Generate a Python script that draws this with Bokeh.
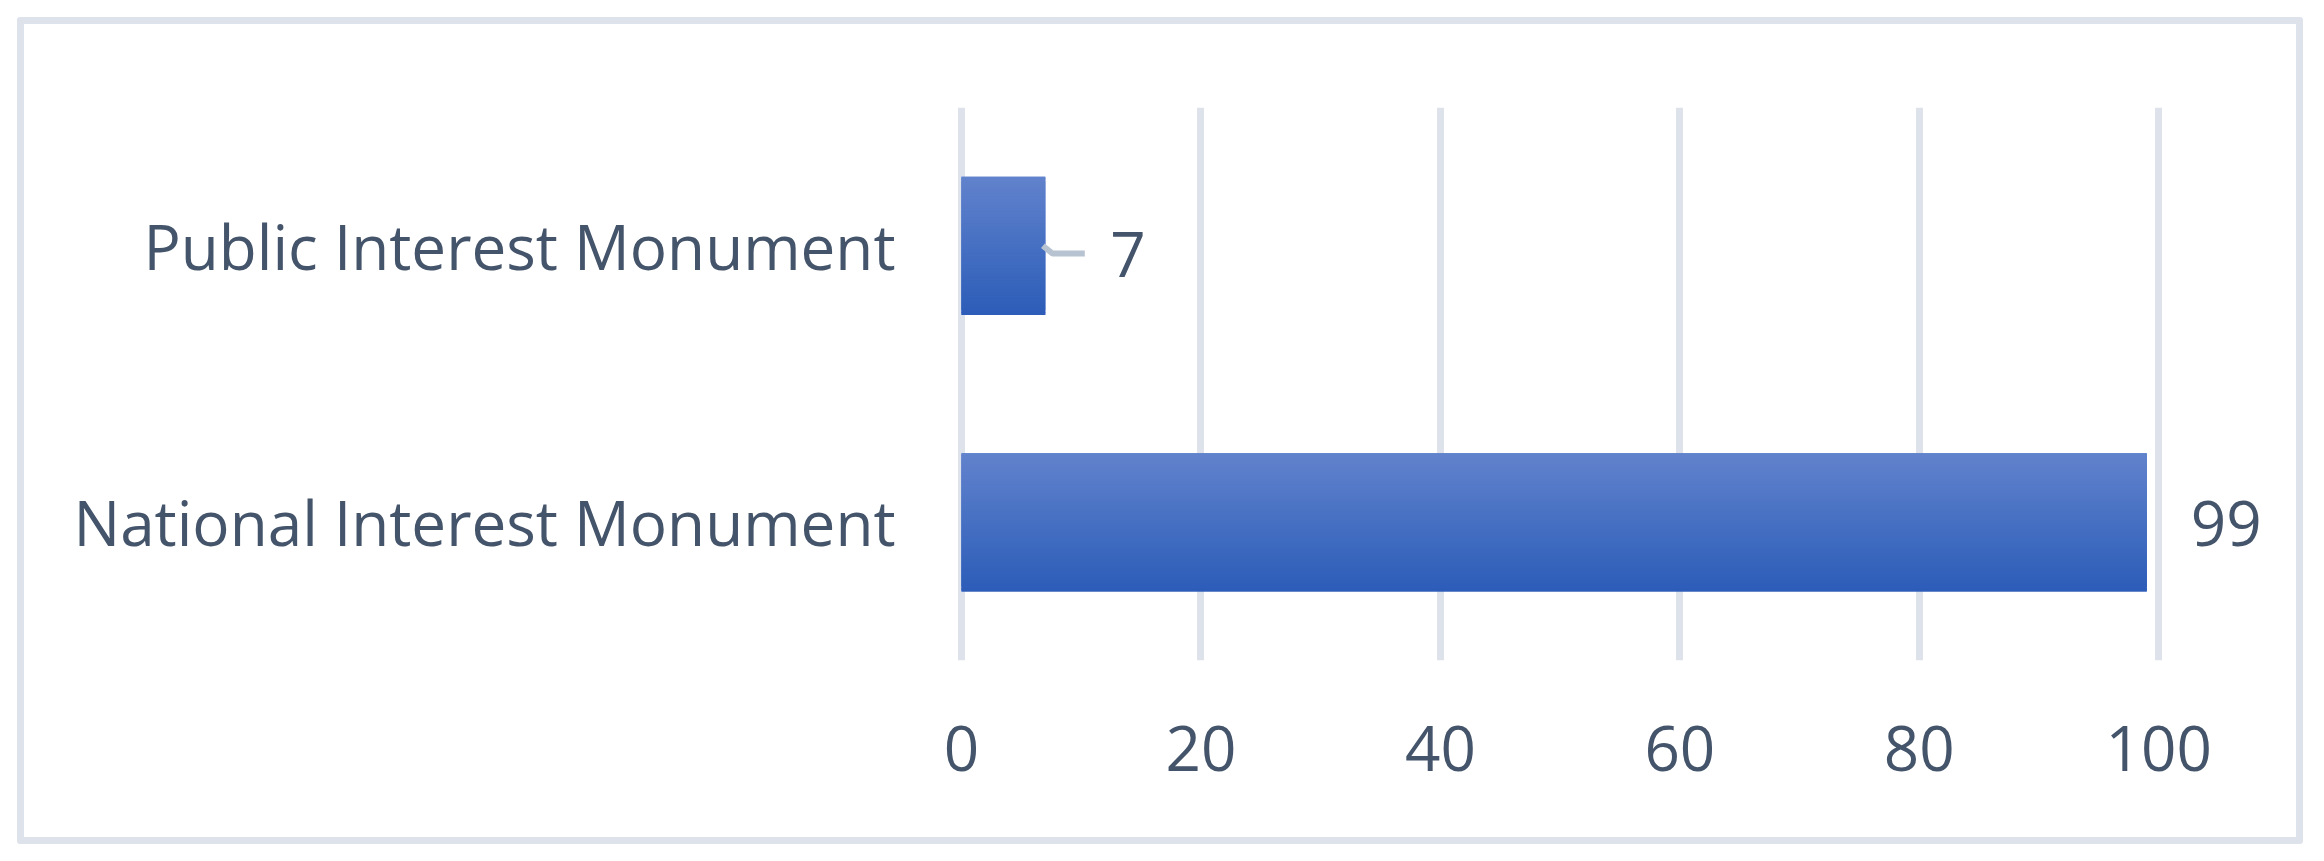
from bokeh.plotting import figure
from bokeh.models import Range1d, FactorRange, FixedTicker, ColumnDataSource, InlineStyleSheet
from bokeh.embed import file_html
from bokeh.resources import INLINE
from bokeh.core.properties import value

# ---- data ----
categories = ["National Interest Monument", "Public Interest Monument"]
counts = [99, 7]
x_ticks = [0, 20, 40, 60, 80, 100]

# ---- style ----
FONT = "Open Sans"
FONT_SIZE = "62px"
TEXT_COLOR = "#44546A"
GRID_COLOR = "#DEE3EB"
TOP_RGB = (98, 131, 205)
BOT_RGB = (44, 93, 184)
BAR_H = 0.5
N_STRIPS = 46

W, H = 2308, 845

p = figure(width=W, height=H, output_backend="svg", toolbar_location=None,
           x_range=Range1d(-1, 110), y_range=FactorRange(factors=categories, range_padding=0),
           min_border_left=949, min_border_right=30, min_border_top=107, min_border_bottom=185)
p.outline_line_color = None
p.background_fill_color = "white"
p.border_fill_color = "white"

# outer chart border (drawn by CSS on the plot's host element)
p.stylesheets = [InlineStyleSheet(css="""
:host { position: relative; }
:host::after {
  content: ""; position: absolute; left: 17px; top: 17px; width: 2286px; height: 827px;
  box-sizing: border-box; border: 7px solid #DEE3EB; border-radius: 3px; pointer-events: none;
}
""")]

# grid
p.ygrid.grid_line_color = None
p.xgrid.grid_line_color = GRID_COLOR
p.xgrid.grid_line_width = 7
p.xaxis.ticker = FixedTicker(ticks=x_ticks)

for ax in (p.xaxis[0], p.yaxis[0]):
    ax.axis_line_color = None
    ax.major_tick_line_color = None
    ax.minor_tick_line_color = None
    ax.major_label_text_font = FONT
    ax.major_label_text_font_size = FONT_SIZE
    ax.major_label_text_color = TEXT_COLOR
p.xaxis.major_label_standoff = 59
p.yaxis.major_label_standoff = 48

# gradient bars built from horizontal strips over a solid base
mid = "#%02x%02x%02x" % tuple((a + b) // 2 for a, b in zip(TOP_RGB, BOT_RGB))
p.hbar(y=categories, left=0, right=counts, height=BAR_H, fill_color=mid, line_color=None)
for i in range(N_STRIPS):
    t = (i + 0.5) / N_STRIPS  # 0 = top, 1 = bottom
    rgb = tuple(int(round(a + (b - a) * t)) for a, b in zip(TOP_RGB, BOT_RGB))
    col = "#%02x%02x%02x" % rgb
    off = BAR_H / 2 - (i + 0.5) * BAR_H / N_STRIPS
    hh = BAR_H / N_STRIPS
    if i not in (0, N_STRIPS - 1):
        hh *= 2.0
    ys = [(c, off) for c in categories]
    p.hbar(y=ys, left=0, right=counts, height=hh, fill_color=col, line_color=None)

# value labels
lab_offsets_x = [44, 65]
lab_offsets_y = [1, 9]
src = ColumnDataSource(dict(y=categories, x=counts, t=[str(v) for v in counts],
                            xo=lab_offsets_x, yo=lab_offsets_y))
p.text(x="x", y="y", text="t", x_offset="xo", y_offset="yo", source=src,
       text_font=value(FONT), text_font_size=FONT_SIZE, text_color=TEXT_COLOR,
       text_baseline="middle", text_align="left")

# leader line for the small bar
small = categories[1]
v = counts[1]
p.line(x=[v - 0.2, v + 0.6, v + 3.3], y=[(small, 0.0), (small, -0.028), (small, -0.028)],
       line_color="#B8C3D1", line_width=6)

open("out.html", "w").write(file_html(p, INLINE))
